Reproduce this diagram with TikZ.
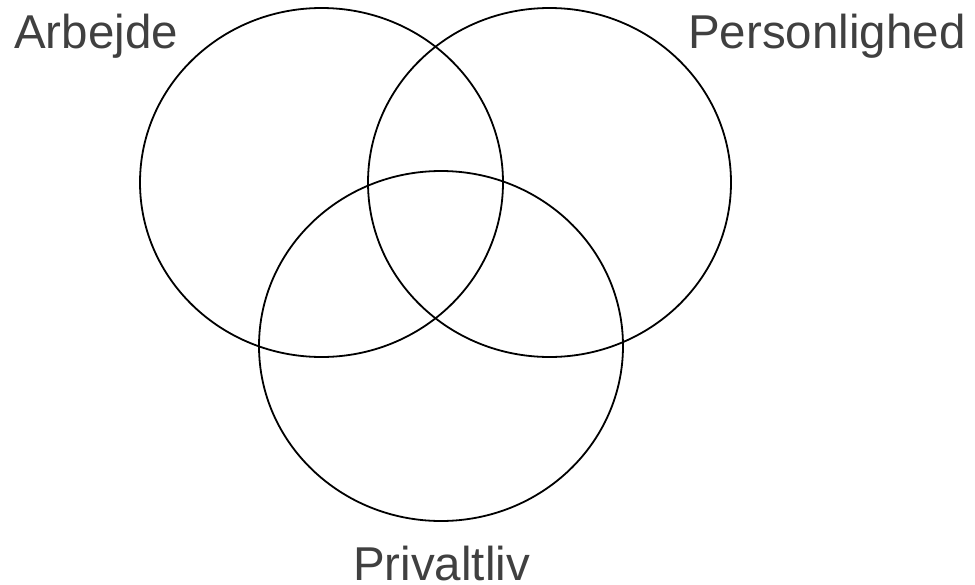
\documentclass[tikz,border=0pt]{standalone}
\usepackage{fontspec}
\setmainfont{Liberation Sans}
\usetikzlibrary{positioning}

\begin{document}
\begin{tikzpicture}[
    x=1pt, y=-1pt,
    ring/.style={draw, line width=1.8pt},
    lbl/.style={anchor=base west, inner sep=0pt, text=black!75, font=\fontsize{47.5}{52}\selectfont}
]
\useasboundingbox (0,0) rectangle (975,584);
% the three sets
\draw[ring] (321.5,182.5) ellipse [x radius=181.5, y radius=174.5];
\draw[ring] (549.5,182.5) ellipse [x radius=181.5, y radius=174.5];
\draw[ring] (441,346) ellipse [x radius=182, y radius=175];
% set names
\node[lbl] (arbejde) at (14,48) {Arbejde};
\node[lbl] (person) at (688,48) {Personlighed};
\node[lbl] (privat) at (353,580) {Privaltliv};
\end{tikzpicture}
\end{document}
